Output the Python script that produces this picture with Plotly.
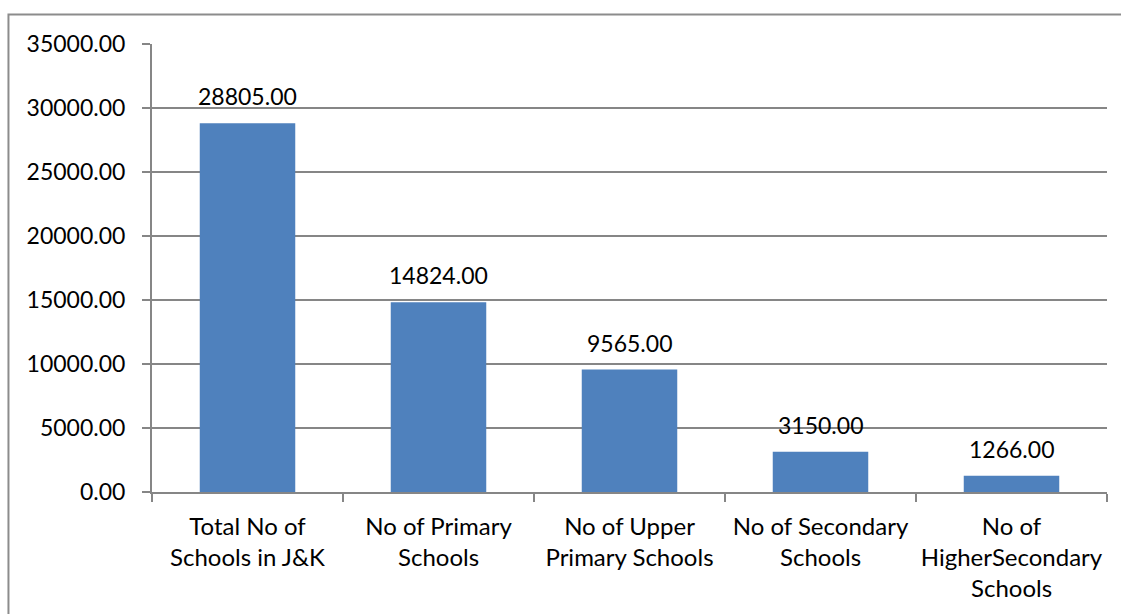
import plotly.graph_objects as go

categories = [
    "Total No of<br>Schools in J&K",
    "No of Primary<br>Schools",
    "No of Upper<br>Primary Schools",
    "No of Secondary<br>Schools",
    "No of<br>HigherSecondary<br>Schools",
]
school_counts = [28805, 14824, 9565, 3150, 1266]
y_ticks = [0, 5000, 10000, 15000, 20000, 25000, 30000, 35000]

FONT = "Lato"
FSIZE = 23
GRID = "#868686"
BAR = "#4F81BD"

fig = go.Figure(
    go.Bar(
        x=categories,
        y=school_counts,
        marker=dict(color=BAR, line=dict(width=0)),
        width=0.5,
    )
)

# value labels above each bar
for cat, val in zip(categories, school_counts):
    fig.add_annotation(
        x=cat, y=val, text=f"{val:.2f}", showarrow=False,
        yanchor="bottom", yshift=11,
        font=dict(family=FONT, size=FSIZE, color="black"),
    )

# outer chart frame (top and left edges visible)
fig.add_shape(
    type="rect", xref="paper", yref="paper",
    x0=-0.1503, x1=1.2, y0=-0.5, y1=1.0658,
    line=dict(color="#8C8C8C", width=2), layer="below",
)

fig.update_layout(
    width=1121, height=614,
    margin=dict(l=152, r=14, t=44, b=122),
    paper_bgcolor="white", plot_bgcolor="white",
    showlegend=False,
    font=dict(family=FONT, size=FSIZE, color="black"),
    xaxis=dict(
        type="category",
        automargin=False,
        tickangle=0,
        showline=True, linecolor=GRID, linewidth=2,
        ticks="outside", tickson="boundaries", ticklen=8,
        tickcolor=GRID, tickwidth=2,
        ticklabelstandoff=12,
        showgrid=False,
        tickfont=dict(family=FONT, size=FSIZE + 1, color="black"),
    ),
    yaxis=dict(
        automargin=False,
        range=[0, 35000],
        tickvals=y_ticks,
        ticktext=[f"{v:.2f}" for v in y_ticks],
        showline=True, linecolor=GRID, linewidth=2,
        ticks="outside", ticklen=8, tickcolor=GRID, tickwidth=2,
        ticklabelstandoff=12,
        showgrid=True, gridcolor=GRID, gridwidth=2,
        zeroline=False,
        tickfont=dict(family=FONT, size=FSIZE, color="black"),
    ),
)

fig.write_html("out.html")
